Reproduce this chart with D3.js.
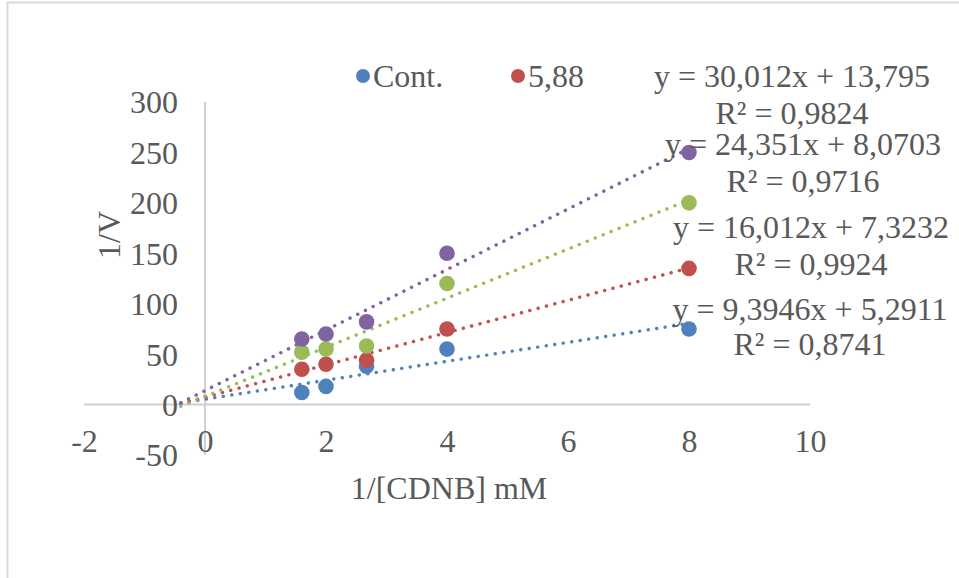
<!DOCTYPE html>
<html>
<head>
<meta charset="utf-8">
<script src="https://cdn.jsdelivr.net/npm/d3@7"></script>
<style>
  html, body { margin: 0; padding: 0; background: #fff; }
  svg { display: block; }
  text { font-family: "Liberation Serif", "Times New Roman", serif; fill: #595959; }
</style>
</head>
<body>
<svg id="chart" width="959" height="578"></svg>
<script>
// ---- data ----
const xValues = [1.6, 2, 2.67, 4, 8];
const seriesNames = ["Cont.", "5,88", "series3", "series4"];
const contValues = [12, 18, 38, 55, 75];
const s588Values = [35, 40, 44, 75, 135];
const s3Values = [52, 55, 58, 120, 200];
const s4Values = [65, 70, 82, 150, 250];
const slopes = [9.3946, 16.012, 24.351, 30.012];
const intercepts = [5.2911, 7.3232, 8.0703, 13.795];
const eqLabels = ["y = 9,3946x + 5,2911", "y = 16,012x + 7,3232", "y = 24,351x + 8,0703", "y = 30,012x + 13,795"];
const r2Labels = ["R² = 0,8741", "R² = 0,9924", "R² = 0,9716", "R² = 0,9824"];
const xTicks = [-2, 0, 2, 4, 6, 8, 10];
const yTicks = [-50, 0, 50, 100, 150, 200, 250, 300];
const legendShown = ["Cont.", "5,88"];
const trendFrom = -0.4, trendTo = 8;

// ---- styles / layout ----
const colors = ["#4F81BD", "#C0504D", "#9BBB59", "#8064A2"];
const FS = 32;
const svg = d3.select("#chart");

const x = d3.scaleLinear().domain([-2, 10]).range([84, 810]);
const y = d3.scaleLinear().domain([-50, 300]).range([455, 102]);

// chart border
svg.append("rect").attr("x", 7.5).attr("y", 2.5).attr("width", 1000).attr("height", 700)
  .attr("fill", "none").attr("stroke", "#D9D9D9").attr("stroke-width", 2);

// axis lines
svg.append("line").attr("x1", x(-2)).attr("x2", x(10)).attr("y1", y(0)).attr("y2", y(0))
  .attr("stroke", "#D0D0D0").attr("stroke-width", 2);
svg.append("line").attr("x1", x(0)).attr("x2", x(0)).attr("y1", y(300)).attr("y2", y(-50))
  .attr("stroke", "#D0D0D0").attr("stroke-width", 2);

// y tick labels
const yAxis = svg.append("g").attr("transform", `translate(${x(0)},0)`)
  .call(d3.axisLeft(y).tickValues(yTicks).tickSize(0).tickPadding(27).tickFormat(d => String(d)));
yAxis.select(".domain").remove();
yAxis.selectAll("text").attr("font-size", FS).attr("font-family", "Liberation Serif")
  .attr("fill", "#595959").attr("dy", "0.34em");

// x tick labels
const xAxis = svg.append("g").attr("transform", `translate(0,${y(-50)})`)
  .call(d3.axisBottom(x).tickValues(xTicks).tickSize(0).tickFormat(d => String(d)));
xAxis.select(".domain").remove();
xAxis.selectAll("text").attr("font-size", FS).attr("font-family", "Liberation Serif")
  .attr("fill", "#595959").attr("y", -3).attr("dy", 0);

// axis titles
svg.append("text").attr("x", 449).attr("y", 499).attr("text-anchor", "middle")
  .attr("font-size", FS).text("1/[CDNB] mM");
svg.append("text").attr("transform", "translate(120,235) rotate(-90)").attr("text-anchor", "middle")
  .attr("font-size", FS).text("1/V");

const allSeries = [contValues, s588Values, s3Values, s4Values];

// trendlines
allSeries.forEach((vals, i) => {
  const pts = [trendFrom, trendTo].map(v => [x(v), y(slopes[i] * v + intercepts[i])]);
  svg.append("path").attr("d", d3.line()(pts)).attr("fill", "none")
    .attr("stroke", colors[i]).attr("stroke-width", 3.4)
    .attr("stroke-linecap", "round").attr("stroke-dasharray", "0.1 8.5");
});

// markers
allSeries.forEach((vals, i) => {
  svg.append("g").selectAll("circle").data(vals).join("circle")
    .attr("cx", (d, j) => x(xValues[j])).attr("cy", d => y(d)).attr("r", 7.8)
    .attr("fill", colors[i]);
});

// legend
const legendX = [363, 518];
legendShown.forEach((name, i) => {
  svg.append("circle").attr("cx", legendX[i]).attr("cy", 76).attr("r", 7).attr("fill", colors[i]);
  svg.append("text").attr("x", legendX[i] + 10).attr("y", 87).attr("font-size", FS).text(name);
});

// trendline labels
const labelPos = [[810, 320, 355], [811, 238, 275], [803, 155, 192], [792, 87, 124]];
eqLabels.forEach((t, i) => {
  svg.append("text").attr("x", labelPos[i][0]).attr("y", labelPos[i][1]).attr("text-anchor", "middle")
    .attr("font-size", FS).text(t);
  svg.append("text").attr("x", labelPos[i][0]).attr("y", labelPos[i][2]).attr("text-anchor", "middle")
    .attr("font-size", FS).text(r2Labels[i]);
});
</script>
</body>
</html>
